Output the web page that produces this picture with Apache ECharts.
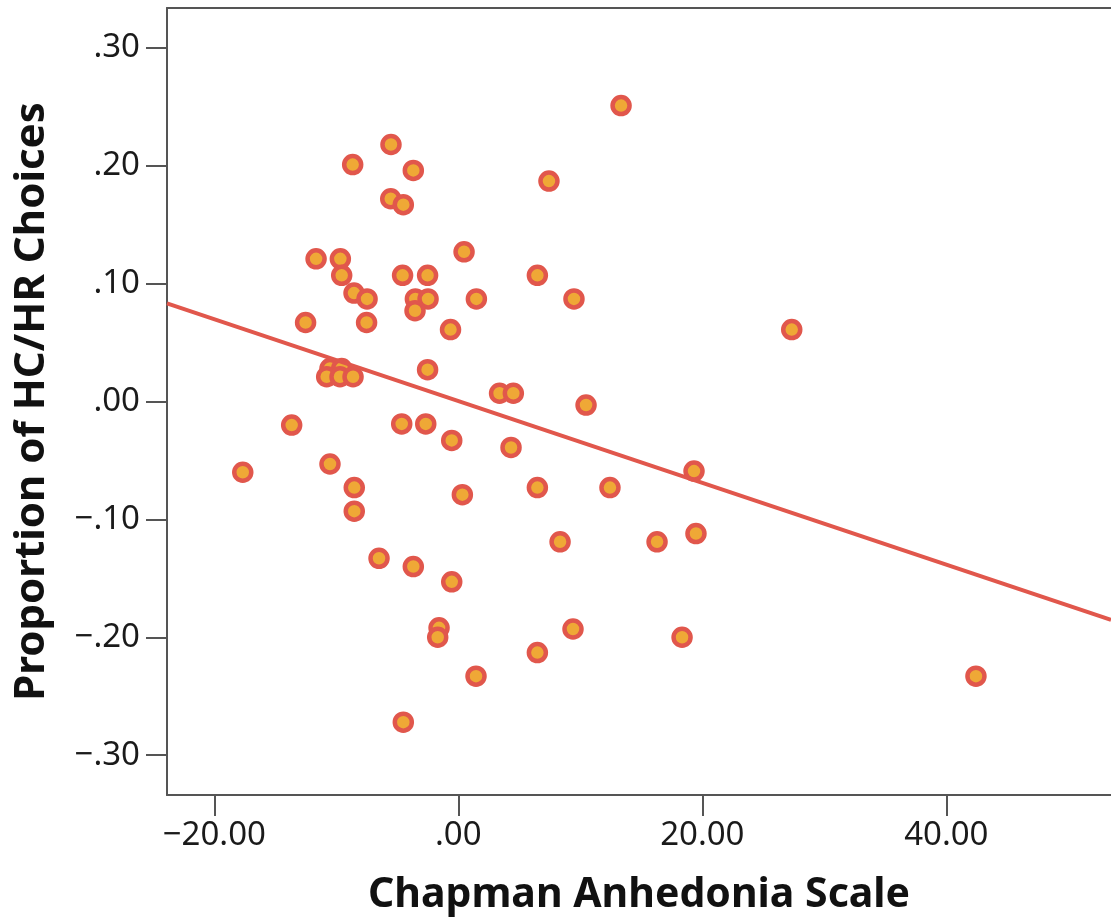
<!DOCTYPE html>
<html>
<head>
<meta charset="utf-8">
<script src="https://cdn.jsdelivr.net/npm/echarts@6/dist/echarts.min.js"></script>
<style>
  html, body { margin: 0; padding: 0; background: #fff; overflow: hidden; }
  #chart { width: 1111px; height: 917px; }
</style>
</head>
<body>
<div id="chart"></div>
<script>
  // Chapman Anhedonia Scale (x) vs proportion of HC/HR choices (y)
  const anhedonia = [
    -5.52, -8.66, -3.69, -5.54, -4.51, 13.34, 7.43, -11.66, -9.67, -9.56,
    -4.57, -2.52, 0.47, 6.48, -8.55, -7.48, -3.52, -2.48, -3.55, 1.48,
    9.48, -12.52, -7.52, -0.64, 27.33, -2.52, -10.52, -9.56, -10.79, -9.70,
    -8.63, 3.38, 4.51, 10.47, -13.66, -4.64, -2.67, -0.54, 4.32, -17.67,
    -10.52, -8.53, -8.53, 0.33, 6.48, 12.43, 19.32, 8.34, 16.29, 19.48,
    -6.50, -3.69, -0.54, -1.58, -1.69, 9.40, 18.34, 6.48, 1.45, 42.43,
    -4.51
  ];
  const proportion = [
    0.218, 0.201, 0.196, 0.172, 0.167, 0.251, 0.187, 0.121, 0.121, 0.107,
    0.107, 0.107, 0.127, 0.107, 0.092, 0.087, 0.087, 0.087, 0.077, 0.087,
    0.087, 0.067, 0.067, 0.061, 0.061, 0.027, 0.028, 0.028, 0.021, 0.021,
    0.021, 0.007, 0.007, -0.003, -0.020, -0.019, -0.019, -0.033, -0.039, -0.060,
    -0.053, -0.073, -0.093, -0.079, -0.073, -0.073, -0.059, -0.119, -0.119, -0.112,
    -0.133, -0.140, -0.153, -0.192, -0.200, -0.193, -0.200, -0.213, -0.233, -0.233,
    -0.272
  ];
  // fitted line, read at the two plot edges
  const fitX = [-23.88, 53.5];
  const fitY = [0.0833, -0.1853];

  const xTicks = [-20, 0, 20, 40];
  const yTicks = [-0.3, -0.2, -0.1, 0, 0.1, 0.2, 0.3];

  const points = anhedonia.map((x, i) => [x, proportion[i]]);
  const fit = fitX.map((x, i) => [x, fitY[i]]);

  function fmt(v) {
    let s = Math.abs(v).toFixed(2);
    if (s.charAt(0) === '0') s = s.slice(1);
    return (v < -1e-9 ? '\u2212' : '') + s;
  }

  const axisColor = '#555';
  const labelStyle = { fontFamily: 'Noto Sans', fontSize: 33, color: '#1a1a1a' };
  const nameStyle = { fontFamily: 'Noto Sans', fontSize: 41, fontWeight: 'bold', color: '#111' };

  const chart = echarts.init(document.getElementById('chart'));
  chart.setOption({
    animation: false,
    grid: { left: 167, right: 0, top: 8, height: 787, outerBoundsMode: 'none' },
    xAxis: [
      {
        type: 'value',
        min: -23.88,
        max: 53.5,
        name: 'Chapman Anhedonia Scale',
        nameLocation: 'middle',
        nameGap: 80,
        nameTextStyle: nameStyle,
        axisLine: { show: true, onZero: false, lineStyle: { color: axisColor, width: 2 } },
        axisTick: { show: true, length: 21, customValues: xTicks, lineStyle: { color: axisColor, width: 2 } },
        axisLabel: Object.assign({ margin: 24, customValues: xTicks, formatter: fmt }, labelStyle),
        splitLine: { show: false }
      },
      {
        // top frame line only
        type: 'value',
        position: 'top',
        min: 0,
        max: 1,
        axisLine: { show: true, onZero: false, lineStyle: { color: axisColor, width: 2 } },
        axisTick: { show: false },
        axisLabel: { show: false },
        splitLine: { show: false }
      }
    ],
    yAxis: {
      type: 'value',
      min: -0.3338,
      max: 0.3338,
      name: 'Proportion of HC/HR Choices',
      nameLocation: 'middle',
      nameGap: 114,
      nameTextStyle: Object.assign({}, nameStyle, { fontSize: 42 }),
      axisLine: { show: true, onZero: false, lineStyle: { color: axisColor, width: 2 } },
      axisTick: { show: true, length: 21, customValues: yTicks, lineStyle: { color: axisColor, width: 2 } },
      axisLabel: Object.assign({ margin: 27, customValues: yTicks, formatter: fmt }, labelStyle),
      splitLine: { show: false }
    },
    series: [
      {
        type: 'scatter',
        data: points,
        symbol: 'circle',
        symbolSize: 17,
        itemStyle: { color: '#EFA836', borderColor: '#E1574C', borderWidth: 4.5, opacity: 1 },
        z: 2
      },
      {
        type: 'line',
        data: fit,
        showSymbol: false,
        symbol: 'none',
        lineStyle: { color: '#E1574C', width: 4 },
        z: 3
      }
    ]
  });
</script>
</body>
</html>
